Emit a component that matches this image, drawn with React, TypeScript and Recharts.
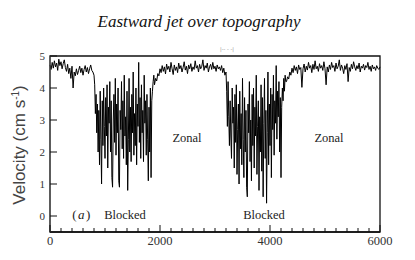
import React from "react";
import { LineChart, Line, XAxis, YAxis, ReferenceArea } from "recharts";

const spinUp = [
  4.72, 4.58, 4.8, 4.62, 4.85, 4.66, 4.78, 4.55, 4.9, 4.7, 4.82, 4.6, 4.76, 4.88, 4.64, 4.52,
  4.74, 4.45, 4.62, 4.3, 4.68, 4.0, 4.5, 4.38, 4.6, 4.42, 4.55, 4.68, 4.48, 4.62, 4.4, 4.58,
  4.7, 4.5, 4.64, 4.45, 4.6, 4.72, 4.55, 4.5,
];
const blocked1 = [
  4.4, 4.1, 3.2, 3.8, 2.6, 3.5, 2.0, 3.3, 1.6, 3.9, 2.4, 1.0, 3.6, 2.2, 4.0, 2.8,
  1.8, 3.7, 2.5, 4.1, 1.5, 3.4, 2.9, 4.2, 2.0, 3.6, 1.2, 0.9, 3.0, 3.8, 2.3, 4.3,
  1.9, 3.5, 2.6, 4.0, 1.1, 0.9, 3.3, 2.7, 4.2, 2.1, 3.6, 1.8, 4.4, 2.5, 3.1, 1.6,
  3.9, 0.8, 2.4, 4.3, 2.0, 3.4, 1.7, 3.8, 2.6, 4.5, 1.9, 3.2, 2.2, 4.0, 1.6, 3.5,
  2.8, 4.8, 2.3, 3.7, 1.8, 4.1, 2.6, 3.3, 1.7, 4.4, 2.9, 3.6, 1.9, 3.8, 2.4, 1.1,
  3.4, 2.0, 4.0, 1.2, 3.6, 3.9, 4.2, 4.4,
];
const zonal1 = [
  4.1, 4.3, 4.22, 4.45, 4.38, 4.6, 4.48, 4.7, 4.52, 4.66, 4.44, 4.75, 4.58, 4.68, 4.5, 4.8,
  4.6, 4.42, 4.72, 4.55, 4.66, 4.48, 4.78, 4.6, 4.7, 4.5, 4.64, 4.82, 4.56, 4.68, 4.45, 4.72,
  4.6, 4.76, 4.52, 4.66, 4.58, 4.85, 4.62, 4.7, 4.5, 4.74, 4.6, 4.68, 4.88, 4.55, 4.7, 4.62,
  4.78, 4.5, 4.66, 4.74, 4.58, 4.8, 4.6, 4.68, 4.52, 4.72, 4.6, 4.66, 4.55, 4.7, 4.48, 4.62,
  4.4,
];
const blocked2 = [
  4.5, 3.9, 2.8, 4.2, 3.1, 2.2, 3.6, 2.5, 1.8, 4.0, 2.9, 3.4, 1.5, 3.8, 2.3, 4.1,
  1.3, 2.7, 3.5, 1.0, 3.9, 2.1, 3.2, 1.6, 4.3, 2.4, 1.2, 3.7, 2.0, 3.3, 0.9, 0.6,
  3.5, 2.6, 4.2, 1.7, 3.0, 1.1, 3.8, 2.2, 4.0, 1.5, 3.4, 2.5, 4.4, 1.3, 2.8, 3.6,
  0.8, 3.1, 2.0, 4.1, 1.4, 3.7, 0.6, 2.9, 4.3, 1.8, 3.3, 0.4, 2.6, 4.5, 1.6, 3.5,
  2.2, 4.0, 1.2, 3.8, 2.7, 4.4, 1.9, 3.6, 2.9, 4.7, 2.4, 3.9, 3.1, 4.2, 2.0, 3.7,
  1.2, 3.4, 4.0, 3.6, 4.3, 3.9, 4.4, 4.2,
];
const zonal2 = [
  4.2, 4.35, 4.28, 4.5, 4.4, 4.62, 4.48, 4.7, 4.55, 4.66, 4.45, 4.72, 4.58, 4.64, 4.02, 4.6,
  4.75, 4.5, 4.68, 4.56, 4.8, 4.62, 4.7, 4.48, 4.74, 4.58, 4.85, 4.6, 4.68, 4.52, 4.76, 4.62,
  4.7, 4.55, 4.82, 4.6, 4.1, 4.66, 4.5, 4.72, 4.58, 4.8, 4.64, 4.7, 4.52, 4.78, 4.6, 4.68,
  4.88, 4.55, 4.72, 4.62, 4.45, 4.7, 4.58, 4.76, 4.2, 4.64, 4.52, 4.74, 4.6, 4.82, 4.66, 4.55,
  4.7, 4.6, 4.78, 4.5, 4.68, 4.62, 4.74, 4.56, 4.7, 4.64, 4.8, 4.58, 4.68, 4.52, 4.72, 4.6,
  4.66, 4.55, 4.7, 4.62, 4.58, 4.66,
];

// sampling interval (in time units) of each record segment
const segments = [
  { start: 0, step: 20, values: spinUp },
  { start: 800, step: 12.5, values: blocked1 },
  { start: 1900, step: 20, values: zonal1 },
  { start: 3200, step: 12.5, values: blocked2 },
  { start: 4300, step: 20, values: zonal2 },
];

const xTicks = Array.from({ length: 31 }, (_, i) => i * 200);
const xLabels = [0, 2000, 4000, 6000];
const yTicks = [0, 1, 2, 3, 4, 5];

const data = segments.flatMap((s) =>
  s.values.map((v, i) => ({ t: s.start + i * s.step, v }))
);

const SERIF = "'Liberation Serif', 'DejaVu Serif', serif";

function XTick(props: any) {
  const { x, y, payload } = props;
  const major = xLabels.includes(payload.value);
  return (
    <g>
      <line x1={x} x2={x} y1={y} y2={y - (major ? 7 : 4)} stroke="#111" strokeWidth={1} />
      {major ? (
        <text x={x} y={y + 13} textAnchor="middle" fontFamily={SERIF} fontSize={12.5} fill="#333">
          {payload.value}
        </text>
      ) : null}
    </g>
  );
}

function YTick(props: any) {
  const { x, y, payload } = props;
  return (
    <g>
      <line x1={x} x2={x + 7} y1={y} y2={y} stroke="#111" strokeWidth={1} />
      <text x={x - 5} y={y + 4} textAnchor="end" fontFamily={SERIF} fontSize={11} fill="#333">
        {payload.value}
      </text>
    </g>
  );
}

export default function App() {
  return (
    <div style={{ position: "absolute", left: 0, top: 0, width: 415, height: 260, background: "#fff" }}>
      <LineChart width={415} height={260} data={data} margin={{ top: 56, right: 35, bottom: 0, left: 0 }}>
        <XAxis
          dataKey="t"
          type="number"
          domain={[0, 6000]}
          ticks={xTicks}
          interval={0}
          tick={<XTick />}
          tickSize={0}
          tickMargin={0}
          height={28}
          axisLine={{ stroke: "#111", strokeWidth: 1.5 }}
        />
        <YAxis
          type="number"
          domain={[-0.5, 5]}
          ticks={yTicks}
          interval={0}
          tick={<YTick />}
          tickSize={0}
          tickMargin={0}
          width={50}
          axisLine={{ stroke: "#555" }}
        />
        <ReferenceArea x1={0} x2={6000} y1={-0.5} y2={5} fill="none" stroke="#111" strokeWidth={1.3} />
        <Line dataKey="v" stroke="#000" strokeWidth={1} dot={false} isAnimationActive={false} />
      </LineChart>
      <svg width={415} height={260} style={{ position: "absolute", left: 0, top: 0, pointerEvents: "none" }}>
        <text x={199} y={27} textAnchor="middle" fontFamily={SERIF} fontStyle="italic" fontSize={17} fill="#111">
          Eastward jet over topography
        </text>
        <text x={227} y={51} textAnchor="middle" fontFamily="'DejaVu Sans', sans-serif" fontSize={5} fill="#888">
          |-- - -|
        </text>
        <text
          transform="translate(25,145) rotate(-90)"
          textAnchor="middle"
          fontFamily="'Liberation Sans', Arial, sans-serif"
          fontSize={17}
          fill="#444"
        >
          Velocity (cm s<tspan dy={-6} fontSize={10}>-1</tspan><tspan dy={6}>)</tspan>
        </text>
        <text x={82} y={219} textAnchor="middle" fontFamily={SERIF} fontSize={13} fill="#222" letterSpacing={1.5}>
          (<tspan fontStyle="italic">a</tspan>)
        </text>
        <text x={125} y={219} textAnchor="middle" fontFamily={SERIF} fontSize={12.5} fill="#222">Blocked</text>
        <text x={264} y={219} textAnchor="middle" fontFamily={SERIF} fontSize={12.5} fill="#222">Blocked</text>
        <text x={187} y={142} textAnchor="middle" fontFamily={SERIF} fontSize={12.5} fill="#222">Zonal</text>
        <text x={329} y={142} textAnchor="middle" fontFamily={SERIF} fontSize={12.5} fill="#222">Zonal</text>
      </svg>
    </div>
  );
}
